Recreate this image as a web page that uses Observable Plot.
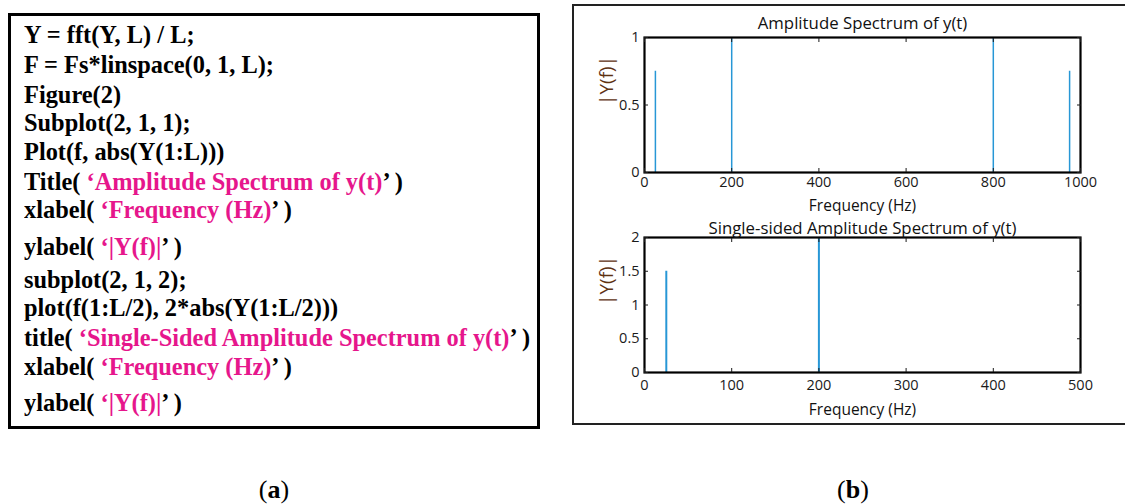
<!DOCTYPE html>
<html>
<head>
<meta charset="utf-8">
<script src="https://cdn.jsdelivr.net/npm/d3@7"></script>
<script src="https://cdn.jsdelivr.net/npm/@observablehq/plot@0.6"></script>
<style>
  html, body { margin: 0; padding: 0; background: #fff; }
  #page { position: relative; width: 1125px; height: 504px; overflow: hidden; background: #fff; }
  #codebox { position: absolute; left: 8px; top: 13px; width: 526px; height: 410px; border: 3.5px solid #000; }
  .codeline { position: absolute; left: 24px; height: 30px; line-height: 30px; white-space: pre;
              font-family: "Liberation Serif", "Times New Roman", serif; font-weight: bold; font-size: 25px;
              color: #000; transform-origin: 0 50%; }
  .str { color: #e6168c; }
  #panel { position: absolute; left: 572px; top: 4px; width: 600px; height: 417px; border: 2px solid #222; }
  .plotwrap { position: absolute; left: 573px; }
  .cap { position: absolute; width: 100px; text-align: center; height: 30px; line-height: 30px;
         font-family: "Liberation Serif", "Times New Roman", serif; font-size: 26px; color: #000; }
</style>
</head>
<body>
<div id="page">
  <div id="codebox"></div>
  <div id="panel"></div>
  <div id="plotTop" class="plotwrap" style="top:5px"></div>
  <div id="plotBottom" class="plotwrap" style="top:215px"></div>
  <div class="cap" style="left:224px; top:475px">(<b>a</b>)</div>
  <div class="cap" style="left:803px; top:475px">(<b>b</b>)</div>
</div>
<script>
// ---- code listing (segments: [text, isString]) ----
const codeLines = [
  [["Y = fft(Y, L) / L;", 0]],
  [["F = Fs*linspace(0, 1, L);", 0]],
  [["Figure(2)", 0]],
  [["Subplot(2, 1, 1);", 0]],
  [["Plot(f, abs(Y(1:L)))", 0]],
  [["Title( ", 0], ["\u2018Amplitude Spectrum of y(t)", 1], ["\u2019 )", 0]],
  [["xlabel( ", 0], ["\u2018Frequency (Hz)", 1], ["\u2019 )", 0]],
  [["ylabel( ", 0], ["\u2018|Y(f)|", 1], ["\u2019 )", 0]],
  [["subplot(2, 1, 2);", 0]],
  [["plot(f(1:L/2), 2*abs(Y(1:L/2)))", 0]],
  [["title( ", 0], ["\u2018Single-Sided Amplitude Spectrum of y(t)", 1], ["\u2019 )", 0]],
  [["xlabel( ", 0], ["\u2018Frequency (Hz)", 1], ["\u2019 )", 0]],
  [["ylabel( ", 0], ["\u2018|Y(f)|", 1], ["\u2019 )", 0]]
];

// ---- chart data ----
const fullFreqs = [25, 200, 800, 975];
const fullAmps = [0.75, 1.0, 1.0, 0.75];
const singleFreqs = [25, 200];
const singleAmps = [1.5, 2.0];
const fullXTicks = [0, 200, 400, 600, 800, 1000];
const fullYTicks = [0, 0.5, 1];
const singleXTicks = [0, 100, 200, 300, 400, 500];
const singleYTicks = [0, 0.5, 1, 1.5, 2];
const topTitle = "Amplitude Spectrum of y(t)";
const bottomTitle = "Single-sided Amplitude Spectrum of y(t)";
const xLabel = "Frequency (Hz)";
const yLabel = "|Y(f)|";

// ---- layout (page y of each code line's centre) ----
const lineCenters = [35, 65, 95, 123, 152, 182, 210, 247, 280, 308, 338, 367, 403];

const page = document.getElementById("page");
const lineEls = codeLines.map((segs, i) => {
  const div = document.createElement("div");
  div.className = "codeline";
  div.style.top = (lineCenters[i] - 15) + "px";
  for (const [t, s] of segs) {
    const span = document.createElement("span");
    span.textContent = t;
    if (s) span.className = "str";
    div.appendChild(span);
  }
  page.appendChild(div);
  return div;
});
const longest = lineEls[10].getBoundingClientRect().width;
const k = 506 / longest;
lineEls.forEach(el => el.style.transform = `scaleX(${k})`);

const fmt = d => `${d}`;
const FONT = "'Open Sans', sans-serif";
function panel(host, {freqs, amps, xMax, yMax, xTicks, yTicks, title, titleDy, height, marginTop, marginBottom, sw, xPad, xLabelDy}) {
  const rows = freqs.map((f, i) => ({f, a: amps[i]}));
  const svg = Plot.plot({
    width: 545, height,
    marginLeft: 71, marginRight: 38, marginTop, marginBottom,
    x: {domain: [0, xMax]},
    y: {domain: [0, yMax]},
    style: {fontFamily: FONT, color: "#1a1a1a", background: "transparent", overflow: "visible"},
    marks: [
      Plot.ruleX(rows, {x: "f", y1: 0, y2: "a", stroke: "#2797d6", strokeWidth: sw}),
      Plot.frame({stroke: "#000", strokeWidth: 2.2}),
      Plot.axisX({anchor: "bottom", ticks: xTicks, tickSize: -4, tickPadding: xPad, tickFormat: fmt, label: null, fill: "#1a1a1a"}),
      Plot.axisX({anchor: "top", ticks: xTicks, tickSize: -4, tickFormat: () => "", label: null}),
      Plot.axisY({anchor: "left", ticks: yTicks, tickSize: -4, tickPadding: 9, tickFormat: fmt, label: null, fill: "#1a1a1a"}),
      Plot.axisY({anchor: "right", ticks: yTicks, tickSize: -4, tickFormat: () => "", label: null}),
      Plot.text([title], {frameAnchor: "top", dy: -titleDy, fontSize: 16.8, fill: "#111", fontFamily: FONT}),
      Plot.text([xLabel], {frameAnchor: "bottom", dy: xLabelDy, fontSize: 15.5, fill: "#111", fontFamily: FONT}),
      Plot.text([yLabel], {frameAnchor: "left", dx: -38, rotate: -90, fontSize: 19, fill: "#5e3212", fontFamily: FONT})
    ]
  });
  host.appendChild(svg);
  // enlarge the tick labels, which come out at the default 10px
  svg.querySelectorAll("text").forEach(t => {
    if (parseFloat(getComputedStyle(t).fontSize) < 12) {
      t.style.fontSize = "14.5px";
      t.style.fontFamily = FONT;
    }
  });
}

panel(document.getElementById("plotTop"), {
  freqs: fullFreqs, amps: fullAmps, xMax: 1000, yMax: 1, xTicks: fullXTicks, yTicks: fullYTicks,
  title: topTitle, titleDy: 20, height: 215, marginTop: 32, marginBottom: 48, sw: 1.5, xPad: 8, xLabelDy: 38
});
panel(document.getElementById("plotBottom"), {
  freqs: singleFreqs, amps: singleAmps, xMax: 500, yMax: 2, xTicks: singleXTicks, yTicks: singleYTicks,
  title: bottomTitle, titleDy: 15, height: 205, marginTop: 22, marginBottom: 48, sw: 2, xPad: 11, xLabelDy: 42
});
</script>
</body>
</html>
